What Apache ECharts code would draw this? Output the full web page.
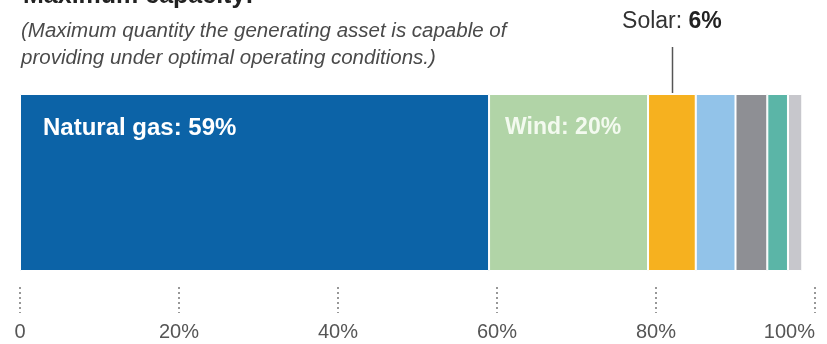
<!DOCTYPE html>
<html>
<head>
<meta charset="utf-8">
<script src="https://cdn.jsdelivr.net/npm/echarts@6/dist/echarts.min.js"></script>
<style>
  html, body { margin: 0; padding: 0; background: #fff; }
  #chart { width: 827px; height: 344px; }
</style>
</head>
<body>
<div id="chart"></div>
<script>
// Share of maximum generating capacity by source (percent)
const sources = ['Natural gas', 'Wind', 'Solar', 'Hydro', 'Nuclear', 'Coal', 'Other'];
const shares = [59, 20, 6, 5, 4, 2.6, 1.8];
const colors = ['#0c63a7', '#b1d4a7', '#f6b11f', '#92c3e9', '#8e8f94', '#5bb5a7', '#c7c7cc'];
const tickValues = [0, 20, 40, 60, 80, 100];

const titleText = 'Maximum capacity:';
const noteLines = [
  '(Maximum quantity the generating asset is capable of',
  'providing under optimal operating conditions.)'
];

const FONT = "'Liberation Sans', Arial, sans-serif";

// Which segments carry an in-bar label, and its inset from the segment's left edge
const insideLabels = {
  'Natural gas': { x: 23, size: 24, color: '#ffffff' },
  'Wind': { x: 16, size: 23, color: '#f3faef' }
};

const chart = echarts.init(document.getElementById('chart'), null, { renderer: 'canvas' });

const series = sources.map((name, i) => {
  const s = {
    name: name,
    type: 'bar',
    stack: 'total',
    barWidth: '100%',
    data: [shares[i]],
    itemStyle: { color: colors[i], borderColor: '#ffffff', borderWidth: 1 },
    emphasis: { disabled: true },
    silent: true
  };
  if (insideLabels[name]) {
    s.label = {
      show: true,
      position: [insideLabels[name].x, 34],
      verticalAlign: 'middle',
      formatter: '{a}: {c}%',
      color: insideLabels[name].color,
      fontFamily: FONT,
      fontWeight: 'bold',
      fontSize: insideLabels[name].size
    };
  } else if (name === 'Solar') {
    s.label = {
      show: true,
      position: 'top',
      distance: 61,
      formatter: '{n|{a}: }{v|{c}%}',
      rich: {
        n: { fontFamily: FONT, fontSize: 23, color: '#333' },
        v: { fontFamily: FONT, fontSize: 23, fontWeight: 'bold', color: '#222' }
      }
    };
  }
  return s;
});

chart.setOption({
  backgroundColor: '#ffffff',
  animation: false,
  title: [
    {
      text: titleText,
      left: 18,
      top: -21,
      textStyle: { fontFamily: FONT, fontWeight: 'bold', fontSize: 25, color: '#222' }
    },
    {
      text: noteLines.join('\n'),
      left: 16,
      top: 13,
      textStyle: {
        fontFamily: FONT, fontStyle: 'italic', fontWeight: 'normal',
        fontSize: 20.5, lineHeight: 27, color: '#4a4a4a'
      }
    }
  ],
  grid: { left: 20, right: 12, top: 94, bottom: 73 },
  xAxis: {
    type: 'value',
    min: tickValues[0],
    max: tickValues[tickValues.length - 1],
    interval: tickValues[1] - tickValues[0],
    offset: 16,
    axisLine: { show: false },
    splitLine: { show: false },
    axisTick: {
      show: true,
      length: 26,
      lineStyle: { type: [2, 3], color: '#777', width: 1.5 }
    },
    axisLabel: {
      margin: 35,
      verticalAlign: 'top',
      alignMaxLabel: 'right',
      fontFamily: FONT,
      fontSize: 20,
      color: '#555',
      formatter: v => (v === 0 ? '0' : v + '%')
    }
  },
  yAxis: {
    type: 'category',
    data: ['Capacity'],
    show: false
  },
  series: series
});

// Leader line from the Solar label down to its segment
const solarIdx = sources.indexOf('Solar');
const solarStart = shares.slice(0, solarIdx).reduce((a, b) => a + b, 0);
const solarMid = chart.convertToPixel({ xAxisIndex: 0 }, solarStart + shares[solarIdx] / 2);
chart.setOption({
  graphic: [{
    type: 'line',
    silent: true,
    shape: { x1: Math.round(solarMid) + 0.5, y1: 47, x2: Math.round(solarMid) + 0.5, y2: 93 },
    style: { stroke: '#555', lineWidth: 1.5 }
  }]
});
</script>
</body>
</html>
